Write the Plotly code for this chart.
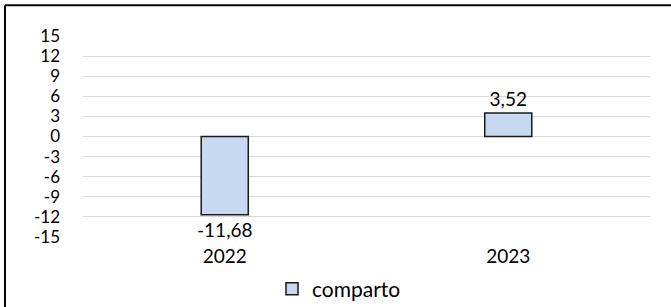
import plotly.graph_objects as go

categories = ["2022", "2023"]
values = [-11.68, 3.52]
series_name = "comparto"
y_ticks = [15, 12, 9, 6, 3, 0, -3, -6, -9, -12, -15]

FONT = "Lato"

fig = go.Figure()
fig.add_trace(go.Bar(
    x=categories,
    y=values,
    name=series_name,
    marker=dict(color="#C6D9F1", line=dict(color="#1a1a1a", width=1.5)),
    width=0.166,
    texttemplate="%{y:.2f}",
    textposition="outside",
    constraintext="none",
    textfont=dict(family=FONT, size=19, color="#000000"),
    cliponaxis=False,
    showlegend=True,
))

fig.update_layout(
    width=671,
    height=307,
    margin=dict(l=83, r=21, t=36, b=70, autoexpand=False),
    paper_bgcolor="white",
    plot_bgcolor="white",
    separators=",.",
    font=dict(family=FONT, color="#000000"),
    showlegend=True,
    legend=dict(
        orientation="h",
        xref="container", yref="container",
        x=(272 / 671), xanchor="left",
        y=(307 - 289) / 307, yanchor="middle",
        font=dict(family=FONT, size=21, color="#000000"),
        itemwidth=30,
        bgcolor="rgba(0,0,0,0)",
    ),
    xaxis=dict(
        type="category",
        automargin=False,
        showgrid=False,
        showline=False,
        ticks="",
        tickfont=dict(family=FONT, size=19, color="#000000"),
        ticklabelstandoff=6,
    ),
    yaxis=dict(
        range=[-15, 15],
        automargin=False,
        tickvals=y_ticks,
        ticktext=[str(v) for v in y_ticks],
        showgrid=True,
        gridcolor="#D9D9D9",
        gridwidth=1,
        zeroline=True,
        zerolinecolor="#D9D9D9",
        zerolinewidth=1,
        showline=False,
        ticks="",
        tickfont=dict(family=FONT, size=17, color="#000000"),
        ticklabelstandoff=22,
    ),
    shapes=[
        dict(type="line", xref="paper", yref="paper",
             x0=-0.1376, x1=-0.1376, y0=1.153, y1=-0.4,
             line=dict(color="#000000", width=2)),
        dict(type="line", xref="paper", yref="paper",
             x0=-0.1376, x1=1.2, y0=1.153, y1=1.153,
             line=dict(color="#000000", width=2)),
    ],
)

fig.write_html(
    "out.html",
    config={"displayModeBar": False},
    post_script="document.body.style.margin='0';",
)
